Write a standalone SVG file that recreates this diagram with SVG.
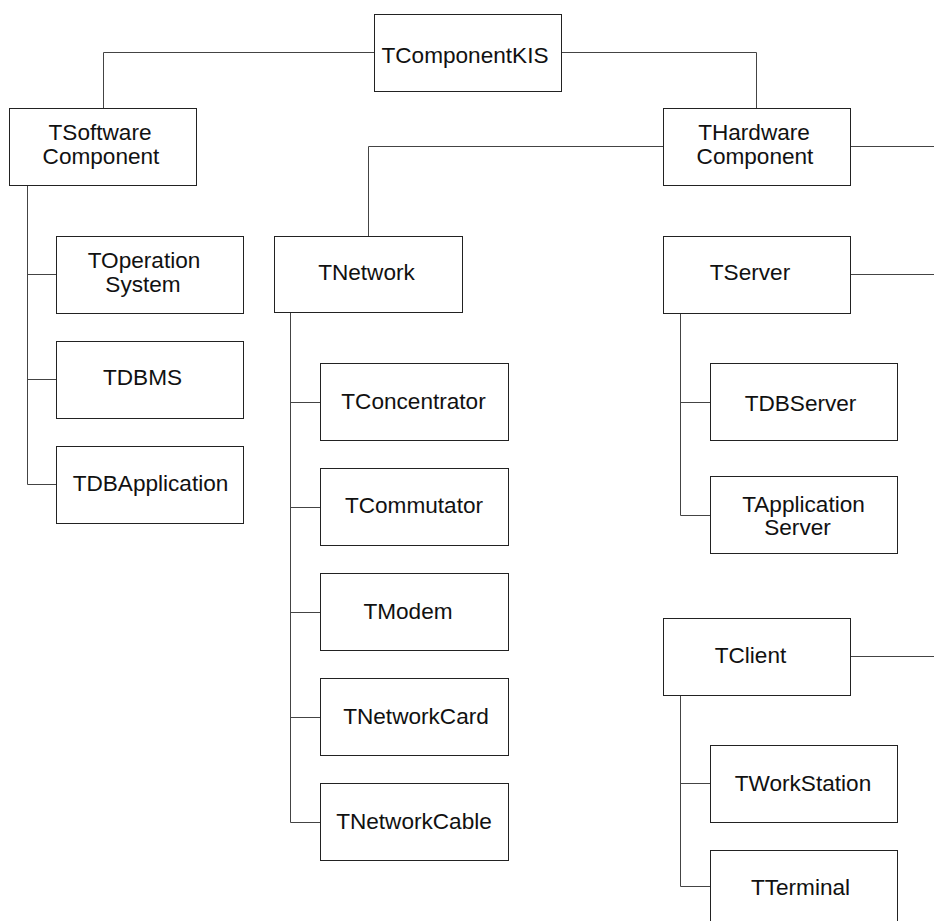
<svg xmlns="http://www.w3.org/2000/svg" width="934" height="921" viewBox="0 0 934 921">
<style>
.box{fill:#fff;stroke:#222;stroke-width:1}
.ln{fill:none;stroke:#444;stroke-width:1}
text{font-family:"Liberation Sans",Arial,sans-serif;font-size:22.6px;fill:#111;text-anchor:middle}
</style>
<rect width="934" height="921" fill="#fff"/>
<g id="connectors">
<path class="ln" d="M103.5 108.5V52.5H374.5"/>
<path class="ln" d="M561.5 52.5H756.5V108.5"/>
<path class="ln" d="M663.5 146.5H368.5V236.5"/>
<path class="ln" d="M850.5 146.5H934"/>
<path class="ln" d="M27.5 185.5V484.5H56.5M27.5 274.5H56.5M27.5 379.5H56.5"/>
<path class="ln" d="M290.5 312.5V822.5H320.5M290.5 402.5H320.5M290.5 507.5H320.5M290.5 612.5H320.5M290.5 717.5H320.5"/>
<path class="ln" d="M850.5 274.5H934"/>
<path class="ln" d="M680.5 313.5V515.5H710.5M680.5 402.5H710.5"/>
<path class="ln" d="M850.5 656.5H934"/>
<path class="ln" d="M680.5 695.5V886.5H710.5M680.5 783.5H710.5"/>
</g>
<g id="TComponentKIS"><rect class="box" x="374.5" y="14.5" width="187" height="77"/><text x="465" y="63">TComponentKIS</text></g>
<g id="TSoftwareComponent"><rect class="box" x="9.5" y="108.5" width="187" height="77"/><text x="100" y="140">TSoftware</text><text x="101" y="164">Component</text></g>
<g id="THardwareComponent"><rect class="box" x="663.5" y="108.5" width="187" height="77"/><text x="754" y="140">THardware</text><text x="755" y="163.5">Component</text></g>
<g id="TOperationSystem"><rect class="box" x="56.5" y="236.5" width="187" height="77"/><text x="144" y="268">TOperation</text><text x="143" y="292">System</text></g>
<g id="TDBMS"><rect class="box" x="56.5" y="341.5" width="187" height="77"/><text x="142.5" y="385">TDBMS</text></g>
<g id="TDBApplication"><rect class="box" x="56.5" y="446.5" width="187" height="77"/><text x="150.5" y="490.5">TDBApplication</text></g>
<g id="TNetwork"><rect class="box" x="274.5" y="236.5" width="188" height="76"/><text x="366.5" y="280">TNetwork</text></g>
<g id="TConcentrator"><rect class="box" x="320.5" y="363.5" width="188" height="77"/><text x="413.5" y="408.5">TConcentrator</text></g>
<g id="TCommutator"><rect class="box" x="320.5" y="468.5" width="188" height="77"/><text x="414" y="513">TCommutator</text></g>
<g id="TModem"><rect class="box" x="320.5" y="573.5" width="188" height="77"/><text x="408" y="618.5">TModem</text></g>
<g id="TNetworkCard"><rect class="box" x="320.5" y="678.5" width="188" height="77"/><text x="416" y="723.5">TNetworkCard</text></g>
<g id="TNetworkCable"><rect class="box" x="320.5" y="783.5" width="188" height="77"/><text x="414" y="828.5">TNetworkCable</text></g>
<g id="TServer"><rect class="box" x="663.5" y="236.5" width="187" height="77"/><text x="750" y="280">TServer</text></g>
<g id="TDBServer"><rect class="box" x="710.5" y="363.5" width="187" height="77"/><text x="800.5" y="410.5">TDBServer</text></g>
<g id="TApplicationServer"><rect class="box" x="710.5" y="476.5" width="187" height="77"/><text x="803.5" y="512">TApplication</text><text x="797.5" y="535">Server</text></g>
<g id="TClient"><rect class="box" x="663.5" y="618.5" width="187" height="77"/><text x="750.5" y="662.5">TClient</text></g>
<g id="TWorkStation"><rect class="box" x="710.5" y="745.5" width="187" height="77"/><text x="803" y="790.5">TWorkStation</text></g>
<g id="TTerminal"><rect class="box" x="710.5" y="850.5" width="187" height="77"/><text x="800.5" y="894.5">TTerminal</text></g>
</svg>
